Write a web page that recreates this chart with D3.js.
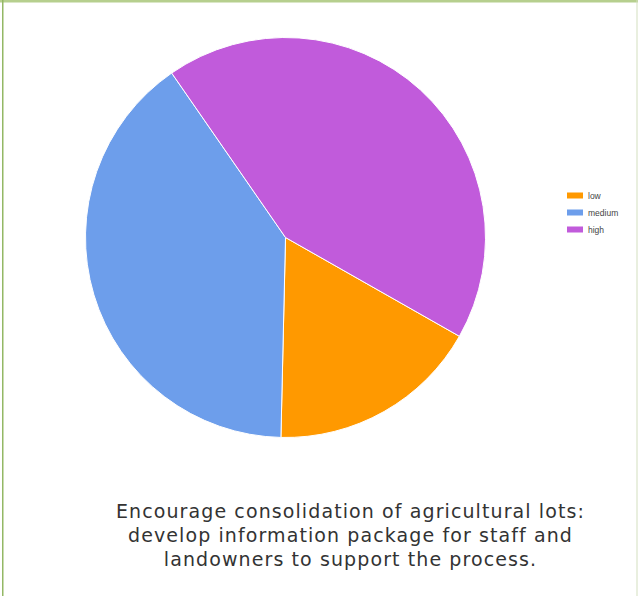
<!DOCTYPE html>
<html><head><meta charset="utf-8">
<script src="https://cdn.jsdelivr.net/npm/d3@7"></script>
<style>html,body{margin:0;padding:0;background:#fff;}svg{display:block;}</style>
</head><body>
<svg id="chart" width="638" height="596"></svg>
<script>
const categories = ["low", "medium", "high"];
const values = [6, 14, 15];
const colors = ["#ff9900", "#6d9eeb", "#c15bdb"];
const titleLines = [
  "Encourage consolidation of agricultural lots:",
  "develop information package for staff and",
  "landowners to support the process."
];

const svg = d3.select("#chart");
// frame
svg.append("rect").attr("x", 0).attr("y", 0).attr("width", 638).attr("height", 2.5).attr("fill", "#b6cf8e");
svg.append("rect").attr("x", 2).attr("y", 0).attr("width", 1.5).attr("height", 596).attr("fill", "#93b865");
svg.append("rect").attr("x", 636.5).attr("y", 0).attr("width", 1).attr("height", 596).attr("fill", "#d3e0c0");

const cx = 285.5, cy = 237.5, r = 200;
const start = 119.6 * Math.PI / 180;
const pie = d3.pie().sort(null).value(d => d.v)
  .startAngle(start).endAngle(start + 2 * Math.PI);
const data = categories.map((c, i) => ({c, v: values[i], col: colors[i]}));
const arc = d3.arc().innerRadius(0).outerRadius(r);
const g = svg.append("g").attr("transform", `translate(${cx},${cy})`);
g.selectAll("path").data(pie(data)).join("path")
  .attr("d", arc).attr("fill", d => d.data.col)
  .attr("stroke", "#ffffff").attr("stroke-width", 1);

// legend
const leg = svg.append("g").attr("transform", "translate(567,192.5)");
const rows = leg.selectAll("g").data(data).join("g")
  .attr("transform", (d, i) => `translate(0,${i * 17})`);
rows.append("rect").attr("width", 16).attr("height", 6).attr("fill", d => d.col);
rows.append("text").attr("x", 21).attr("y", 6).text(d => d.c)
  .attr("font-family", "Arial, 'Liberation Sans', sans-serif").attr("font-size", 8.5).attr("fill", "#444");

// title
const t = svg.append("text").attr("text-anchor", "middle")
  .attr("font-family", "'DejaVu Sans', Verdana, sans-serif").attr("font-size", 19)
  .attr("letter-spacing", 1.1).attr("fill", "#333");
titleLines.forEach((s, i) => {
  t.append("tspan").attr("x", 350.5).attr("y", 518 + i * 23.8).text(s);
});
</script>
</body></html>
